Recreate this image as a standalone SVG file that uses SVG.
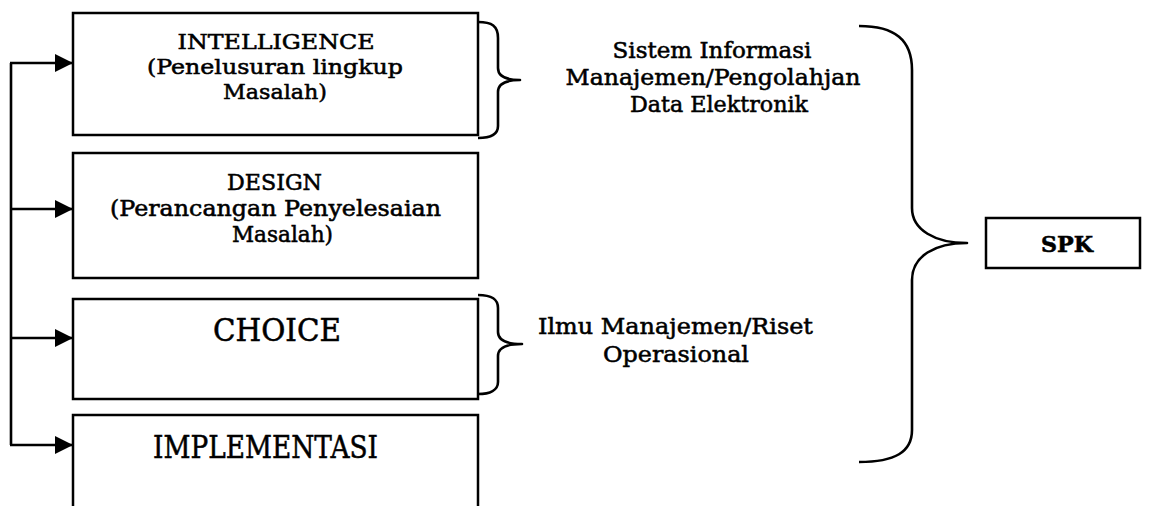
<svg xmlns="http://www.w3.org/2000/svg" width="1155" height="506" viewBox="0 0 1155 506">
<style>
.box{fill:none;stroke:#000;stroke-width:2.5}
.ln{fill:none;stroke:#000;stroke-width:2.6}
.br{fill:none;stroke:#000;stroke-width:2.6;stroke-linejoin:round}
text{font-family:"DejaVu Serif","Liberation Serif",serif;fill:#000;text-anchor:middle;stroke:#000;stroke-width:0.55}
.s{font-size:21px}
.d{font-size:22px}
.b{font-size:32px}
.r{font-size:22.5px}
.k{font-size:22px;font-weight:bold}
</style>
<defs>
<marker id="ah" markerUnits="userSpaceOnUse" markerWidth="18" markerHeight="18" viewBox="0 0 16 16" refX="16" refY="8" orient="auto">
<path d="M0,0 L16,8 L0,16 Z" fill="#000"/>
</marker>
</defs>
<rect width="1155" height="506" fill="#fff"/>
<g id="connectors">
<path class="ln" d="M11,63 V445"/>
<path class="ln" d="M10,63 H73" marker-end="url(#ah)"/>
<path class="ln" d="M10,209 H73" marker-end="url(#ah)"/>
<path class="ln" d="M10,338 H73" marker-end="url(#ah)"/>
<path class="ln" d="M10,445 H73" marker-end="url(#ah)"/>
</g>
<g id="intelligence">
<rect class="box" x="73" y="13" width="405" height="122"/>
<text class="s" x="276" y="49" textLength="197" lengthAdjust="spacingAndGlyphs">INTELLIGENCE</text>
<text class="s" x="275" y="74" textLength="256" lengthAdjust="spacingAndGlyphs">(Penelusuran lingkup</text>
<text class="s" x="275" y="99" textLength="104" lengthAdjust="spacingAndGlyphs">Masalah)</text>
</g>
<g id="design">
<rect class="box" x="73" y="153" width="405" height="125"/>
<text class="d" x="274.5" y="190" textLength="95" lengthAdjust="spacingAndGlyphs">DESIGN</text>
<text class="d" x="275.5" y="216" textLength="331" lengthAdjust="spacingAndGlyphs">(Perancangan Penyelesaian</text>
<text class="d" x="282.5" y="242" textLength="101" lengthAdjust="spacingAndGlyphs">Masalah)</text>
</g>
<g id="choice">
<rect class="box" x="73" y="299" width="405" height="100"/>
<text class="b" x="277" y="341" textLength="128" lengthAdjust="spacingAndGlyphs">CHOICE</text>
</g>
<g id="implementasi">
<path class="box" d="M73,507 V415 H478 V507"/>
<text class="b" x="265.5" y="458" textLength="225" lengthAdjust="spacingAndGlyphs">IMPLEMENTASI</text>
</g>
<g id="brace-sim">
<path class="br" d="M478,22 C492,22 498,26 498,38 V68 C498,76 506,80 520,80 C506,80 498,84 498,92 V126 C498,135 490,138 478,138"/>
<text class="r" x="712" y="58" textLength="199" lengthAdjust="spacingAndGlyphs">Sistem Informasi</text>
<text class="r" x="713" y="85" textLength="295" lengthAdjust="spacingAndGlyphs">Manajemen/Pengolahjan</text>
<text class="r" x="719" y="112" textLength="178" lengthAdjust="spacingAndGlyphs">Data Elektronik</text>
</g>
<g id="brace-ilmu">
<path class="br" d="M478,295 C492,295 498,299 498,308 V332 C498,340 506,344 522,344 C506,344 498,348 498,356 V382 C498,390 490,394 478,394"/>
<text class="r" x="675.5" y="334" textLength="275" lengthAdjust="spacingAndGlyphs">Ilmu Manajemen/Riset</text>
<text class="r" x="676" y="362" textLength="146" lengthAdjust="spacingAndGlyphs">Operasional</text>
</g>
<g id="brace-spk">
<path class="br" d="M859,26 C895,26 912,40 912,70 V208 C912,230 935,243 967,243 C935,243 912,256 912,280 V430 C912,452 895,462 859,462"/>
</g>
<g id="spk">
<rect class="box" x="986" y="218" width="154" height="50"/>
<text class="k" x="1067" y="252" textLength="52" lengthAdjust="spacingAndGlyphs">SPK</text>
</g>
</svg>
